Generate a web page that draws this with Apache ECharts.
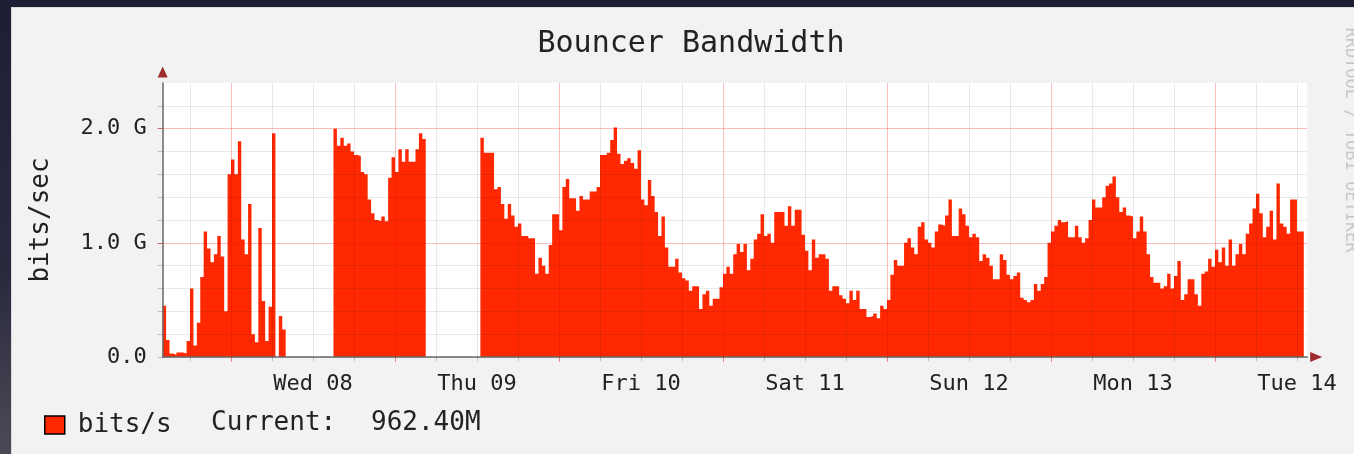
<!DOCTYPE html>
<html>
<head>
<meta charset="utf-8">
<title>Bouncer Bandwidth</title>
<script src="https://cdn.jsdelivr.net/npm/echarts@6/dist/echarts.min.js"></script>
<style>
  html, body { margin: 0; padding: 0; }
  body {
    width: 1354px; height: 454px; overflow: hidden; position: relative;
    background: linear-gradient(180deg, #1d1d34 0%, #2a2a3f 60%, #4a4a56 100%);
  }
  #frame {
    position: absolute; left: 11px; top: 7px; right: 0; bottom: 0;
    background: #f2f2f2; border-left: 1px solid #dadada; border-top: 1px solid #dadada;
  }
  #chart { position: absolute; left: 0; top: 0; width: 1354px; height: 454px; }
</style>
</head>
<body>
<div id="frame"></div>
<div id="chart"></div>
<script>
// one sample every 30 min, first one Tue 07 14:00 (hours counted from Wed 08 00:00)
var startHour = -10;
var slotHours = 0.5;

// bits/s in Gbit/s
var bandwidthGbps = [
  0.45, 0.15, 0.03, 0.02, 0.04, 0.04, 0.03, 0.14, 0.60, 0.10,
  0.30, 0.70, 1.10, 0.95, 0.83, 0.90, 1.06, 0.88, 0.40, 1.60,
  1.73, 1.60, 1.89, 1.03, 0.90, 1.34, 0.20, 0.13, 1.13, 0.49,
  0.14, 0.44, 1.96, 0, 0.36, 0.24, 0, 0, 0, 0,
  0, 0, 0, 0, 0, 0, 0, 0, 0, 0,
  2.00, 1.85, 1.92, 1.85, 1.87, 1.80, 1.77, 1.76, 1.62, 1.60,
  1.38, 1.26, 1.20, 1.19, 1.23, 1.19, 1.57, 1.75, 1.62, 1.82,
  1.71, 1.82, 1.71, 1.71, 1.82, 1.96, 1.91, 0, 0, 0,
  0, 0, 0, 0, 0, 0, 0, 0, 0, 0,
  0, 0, 0, 1.92, 1.79, 1.79, 1.79, 1.47, 1.49, 1.34,
  1.21, 1.34, 1.24, 1.14, 1.17, 1.06, 1.06, 1.04, 1.04, 0.73,
  0.87, 0.80, 0.73, 0.98, 1.25, 1.25, 1.11, 1.49, 1.56, 1.39,
  1.39, 1.28, 1.41, 1.38, 1.38, 1.45, 1.45, 1.49, 1.77, 1.77,
  1.79, 1.90, 2.01, 1.78, 1.69, 1.72, 1.74, 1.70, 1.65, 1.81,
  1.38, 1.33, 1.55, 1.41, 1.27, 1.06, 1.23, 0.96, 0.79, 0.79,
  0.86, 0.74, 0.69, 0.67, 0.58, 0.62, 0.62, 0.42, 0.55, 0.58,
  0.45, 0.51, 0.51, 0.61, 0.73, 0.79, 0.73, 0.90, 0.99, 0.92,
  0.99, 0.76, 0.86, 1.03, 1.08, 1.25, 1.06, 1.08, 1.00, 1.27,
  1.27, 1.27, 1.15, 1.32, 1.15, 1.29, 1.29, 1.07, 0.93, 0.76,
  1.03, 0.87, 0.90, 0.90, 0.86, 0.58, 0.62, 0.62, 0.54, 0.51,
  0.47, 0.58, 0.50, 0.58, 0.42, 0.42, 0.35, 0.36, 0.38, 0.34,
  0.45, 0.42, 0.50, 0.72, 0.85, 0.80, 0.80, 1.00, 1.04, 0.96,
  0.90, 1.14, 1.18, 1.03, 1.00, 0.96, 1.10, 1.16, 1.15, 1.24,
  1.38, 1.06, 1.06, 1.30, 1.25, 1.15, 1.05, 1.08, 1.05, 0.84,
  0.90, 0.87, 0.80, 0.68, 0.68, 0.90, 0.85, 0.72, 0.68, 0.71,
  0.74, 0.52, 0.50, 0.48, 0.50, 0.64, 0.58, 0.64, 0.70, 1.00,
  1.10, 1.15, 1.20, 1.18, 1.19, 1.05, 1.05, 1.15, 1.05, 1.00,
  1.04, 1.20, 1.38, 1.31, 1.31, 1.40, 1.50, 1.52, 1.58, 1.40,
  1.27, 1.31, 1.24, 1.23, 1.04, 1.10, 1.23, 1.10, 0.90, 0.70,
  0.65, 0.65, 0.60, 0.62, 0.73, 0.60, 0.71, 0.84, 0.50, 0.55,
  0.68, 0.68, 0.55, 0.45, 0.73, 0.75, 0.86, 0.79, 0.94, 0.83,
  0.96, 0.80, 1.03, 0.80, 0.90, 0.99, 0.90, 1.08, 1.17, 1.30,
  1.43, 1.26, 1.05, 1.14, 1.28, 1.03, 1.52, 1.17, 1.14, 1.08,
  1.38, 1.38, 1.10, 1.10, 0.96
];

// labels sit at noon of each day
var dayLabels = ['Wed 08', 'Thu 09', 'Fri 10', 'Sat 11', 'Sun 12', 'Mon 13', 'Tue 14'];
var yTickLabels = ['0.0', '1.0 G', '2.0 G'];
var yMinorTicks = [0, 0.2, 0.4, 0.6, 0.8, 1.0, 1.2, 1.4, 1.6, 1.8, 2.0, 2.2];
var yMajorTicks = [1, 2];

var chartTitle = 'Bouncer Bandwidth';
var unitLabel = 'bits/sec';
var seriesName = 'bits/s';
var currentLabel = 'Current:';
var currentValue = '962.40M';
var watermark = 'RRDTOOL / TOBI OETIKER';

var MONO = '"DejaVu Sans Mono", monospace';
var AREA_RED = '#ff2800';
var GRID_GRAY = 'rgba(0, 0, 0, 0.085)';
var GRID_RED = 'rgba(230, 0, 0, 0.26)';
var ARROW_RED = '#9e2c2c';

// one extra empty slot past the last sample so the axis runs a little further
var hourSlots = [];
for (var k = 0; k <= bandwidthGbps.length; k++) {
  hourSlots.push(String(startHour + k * slotHours));
}

function mod(a, n) { return ((a % n) + n) % n; }
function isMidnight(v) { return mod(Number(v), 24) === 0; }
function isNoon(v) { return mod(Number(v) - 12, 24) === 0; }
function isMinorHour(v) { return mod(Number(v), 6) === 0 && !isMidnight(v); }

// horizontal grid: ticks 0, 0.2 ... 2.4 ; red at 1.0 and 2.0, nothing at the top edge
var ySplitColors = [GRID_GRAY, GRID_GRAY, GRID_GRAY, GRID_GRAY, GRID_GRAY, GRID_RED,
  GRID_GRAY, GRID_GRAY, GRID_GRAY, GRID_GRAY, GRID_RED, GRID_GRAY, 'rgba(0,0,0,0)'];

var gridBox = { left: 162.67, top: 83, right: 46.8, bottom: 97 };

var chart = echarts.init(document.getElementById('chart'));

chart.setOption({
  animation: false,
  backgroundColor: 'transparent',
  grid: [
    Object.assign({ show: true, backgroundColor: '#ffffff', borderWidth: 0 }, gridBox),
    Object.assign({ show: false }, gridBox)
  ],
  legend: {
    data: [seriesName],
    left: 44,
    top: 412,
    padding: 0,
    icon: 'rect',
    itemWidth: 20,
    itemHeight: 18,
    selectedMode: false,
    itemStyle: { borderColor: '#000', borderWidth: 1.5 },
    textStyle: { fontFamily: MONO, fontSize: 26, color: '#222', padding: [0, 0, 0, 8] }
  },
  xAxis: [{
    type: 'category',
    gridIndex: 0,
    data: hourSlots,
    boundaryGap: false,
    z: 3,
    axisLine: { show: true, onZero: false, lineStyle: { color: '#666', width: 1.5 } },
    axisTick: {
      show: true, length: 4,
      interval: function(i, v) { return isMinorHour(v); },
      lineStyle: { color: 'rgba(0,0,0,0.2)' }
    },
    axisLabel: {
      interval: function(i, v) { return isNoon(v); },
      formatter: function(v) {
        return isNoon(v) ? dayLabels[(Number(v) - 12) / 24] : '';
      },
      fontFamily: MONO, fontSize: 22, color: '#222', margin: 16
    },
    splitLine: {
      show: true,
      interval: function(i, v) { return isMinorHour(v); },
      lineStyle: { color: GRID_GRAY, width: 1 }
    }
  }, {
    type: 'category',
    gridIndex: 1,
    data: hourSlots,
    boundaryGap: false,
    z: 3,
    axisLine: {
      show: true, onZero: false,
      symbol: ['none', 'triangle'], symbolSize: [10, 12], symbolOffset: [0, 9],
      lineStyle: { color: ARROW_RED, width: 0 }
    },
    axisTick: {
      show: true, length: 5,
      interval: function(i, v) { return isMidnight(v); },
      lineStyle: { color: 'rgba(230,0,0,0.45)' }
    },
    axisLabel: { show: false },
    splitLine: {
      show: true,
      interval: function(i, v) { return isMidnight(v); },
      lineStyle: { color: GRID_RED, width: 1 }
    }
  }],
  yAxis: [{
    type: 'value',
    gridIndex: 0,
    min: 0, max: 2.4, interval: 0.2,
    z: 3,
    name: unitLabel,
    nameLocation: 'middle',
    nameRotate: 90,
    nameGap: 108,
    nameTextStyle: { fontFamily: MONO, fontSize: 26, color: '#222' },
    axisLine: { show: true, onZero: false, lineStyle: { color: '#666', width: 1.5 } },
    axisTick: {
      show: true, length: 5, customValues: yMinorTicks,
      lineStyle: { color: 'rgba(0,0,0,0.2)' }
    },
    axisLabel: {
      fontFamily: MONO, fontSize: 22, color: '#222', margin: 16,
      formatter: function(v) {
        var r = Math.round(v);
        return (Math.abs(v - r) < 1e-6 && yTickLabels[r]) ? yTickLabels[r] : '';
      }
    },
    splitLine: { show: true, lineStyle: { color: ySplitColors, width: 1 } }
  }, {
    type: 'value',
    gridIndex: 1,
    min: 0, max: 2.4, interval: 0.2,
    z: 3,
    axisLine: {
      show: true, onZero: false,
      symbol: ['none', 'triangle'], symbolSize: [10, 11], symbolOffset: [0, 11],
      lineStyle: { color: ARROW_RED, width: 0 }
    },
    axisTick: {
      show: true, length: 5, customValues: yMajorTicks,
      lineStyle: { color: 'rgba(230,0,0,0.45)' }
    },
    axisLabel: { show: false },
    splitLine: { show: false }
  }],
  series: [{
    name: seriesName,
    type: 'line',
    xAxisIndex: 0,
    yAxisIndex: 0,
    data: bandwidthGbps,
    step: 'end',
    symbol: 'none',
    showSymbol: false,
    z: 2,
    itemStyle: { color: AREA_RED },
    lineStyle: { width: 0, color: AREA_RED },
    areaStyle: { color: AREA_RED, opacity: 1 }
  }],
  graphic: [{
    type: 'text', x: 691, y: 44, silent: true,
    style: { text: chartTitle, font: '30px ' + MONO, fill: '#222', align: 'center', verticalAlign: 'middle' }
  }, {
    type: 'text', x: 211, y: 423, silent: true,
    style: { text: currentLabel, font: '26px ' + MONO, fill: '#222', align: 'left', verticalAlign: 'middle' }
  }, {
    type: 'text', x: 371, y: 423, silent: true,
    style: { text: currentValue, font: '26px ' + MONO, fill: '#222', align: 'left', verticalAlign: 'middle' }
  }, {
    type: 'text', x: 1350, y: 140, rotation: -Math.PI / 2, silent: true,
    style: { text: watermark, font: '17px ' + MONO, fill: '#c8c8c8', align: 'center', verticalAlign: 'middle' }
  }]
});
</script>
</body>
</html>
